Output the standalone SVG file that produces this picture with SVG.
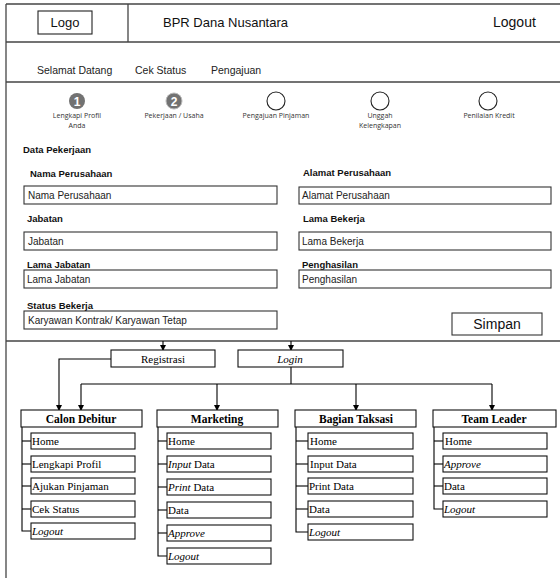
<svg xmlns="http://www.w3.org/2000/svg" width="560" height="580" viewBox="0 0 560 580">
<style>
.frame{stroke:#444;stroke-width:1.3;fill:none}
.hdr{font-family:"Liberation Sans",Arial,sans-serif;fill:#111}
.nav{font-family:"Liberation Sans",Arial,sans-serif;font-size:10.5px;fill:#222}
.step{font-family:"Open Sans","Liberation Sans",sans-serif;font-size:7px;fill:#333;text-anchor:middle}
.lbl{font-family:"Liberation Sans",Arial,sans-serif;font-size:9.5px;font-weight:bold;fill:#111}
.inp{fill:#fff;stroke:#333;stroke-width:1.1}
.inpt{font-family:"Liberation Sans",Arial,sans-serif;font-size:10px;fill:#222}
.box{fill:#fff;stroke:#111;stroke-width:1.1}
.role{font-family:"Liberation Serif","Times New Roman",serif;font-size:11.5px;font-weight:bold;text-anchor:middle;fill:#000}
.it{font-family:"Liberation Serif","Times New Roman",serif;font-size:11px;fill:#000}
.ln{stroke:#000;stroke-width:1.1;fill:none}
</style>
<defs>
<marker id="ah" markerWidth="6" markerHeight="6" refX="5" refY="3" orient="auto" markerUnits="userSpaceOnUse">
<path d="M0,0 L6,3 L0,6 Z" fill="#000"/>
</marker>
</defs>
<rect width="560" height="580" fill="#fff"/>

<g id="frame">
<line class="frame" x1="6" y1="4" x2="560" y2="4"/>
<line class="frame" x1="6" y1="4" x2="6" y2="578"/>
<line class="frame" x1="128" y1="4" x2="128" y2="42"/>
<line class="frame" x1="6" y1="42" x2="560" y2="42"/>
<line class="frame" x1="6" y1="82" x2="560" y2="82"/>
<line class="frame" x1="6" y1="341" x2="560" y2="341"/>
</g>

<g id="header">
<rect x="38" y="11" width="54" height="23" fill="#fff" stroke="#222" stroke-width="1.1"/>
<text class="hdr" x="65" y="27" font-size="13" text-anchor="middle">Logo</text>
<text class="hdr" x="163" y="27" font-size="13">BPR Dana Nusantara</text>
<text class="hdr" x="493" y="27" font-size="14">Logout</text>
</g>

<g id="nav">
<text class="nav" x="37" y="74">Selamat Datang</text>
<text class="nav" x="135" y="74">Cek Status</text>
<text class="nav" x="211" y="74">Pengajuan</text>
</g>

<g id="steps">
<circle cx="77" cy="101" r="8" fill="#727272"/>
<text x="77" y="105.5" font-family="Liberation Sans,Arial,sans-serif" font-size="12" font-weight="bold" fill="#fff" text-anchor="middle">1</text>
<circle cx="174" cy="101" r="8" fill="#727272" stroke="#bbb" stroke-width="1"/>
<text x="174" y="105.5" font-family="Liberation Sans,Arial,sans-serif" font-size="12" font-weight="bold" fill="#fff" text-anchor="middle">2</text>
<circle cx="276" cy="101" r="9" fill="#fff" stroke="#222" stroke-width="1.1"/>
<circle cx="380" cy="101" r="9" fill="#fff" stroke="#222" stroke-width="1.1"/>
<circle cx="488" cy="101" r="9" fill="#fff" stroke="#222" stroke-width="1.1"/>
<text class="step" x="77" y="118">Lengkapi Profil</text>
<text class="step" x="77" y="128">Anda</text>
<text class="step" x="174" y="118">Pekerjaan / Usaha</text>
<text class="step" x="276" y="118">Pengajuan Pinjaman</text>
<text class="step" x="380" y="118">Unggah</text>
<text class="step" x="380" y="128">Kelengkapan</text>
<text class="step" x="489" y="118">Penilaian Kredit</text>
</g>

<g id="form">
<text class="lbl" x="23" y="153">Data Pekerjaan</text>
<text class="lbl" x="30" y="177">Nama Perusahaan</text>
<rect class="inp" x="24" y="186" width="253" height="18"/>
<text class="inpt" x="28" y="199">Nama Perusahaan</text>
<text class="lbl" x="27" y="222">Jabatan</text>
<rect class="inp" x="24" y="232" width="253" height="18"/>
<text class="inpt" x="28" y="245">Jabatan</text>
<text class="lbl" x="27" y="268">Lama Jabatan</text>
<rect class="inp" x="24" y="270" width="253" height="18"/>
<text class="inpt" x="27" y="283">Lama Jabatan</text>
<text class="lbl" x="27" y="309">Status Bekerja</text>
<rect class="inp" x="24" y="311" width="253" height="18"/>
<text class="inpt" x="28" y="324">Karyawan Kontrak/ Karyawan Tetap</text>

<text class="lbl" x="303" y="176">Alamat Perusahaan</text>
<rect class="inp" x="299" y="187" width="252" height="17"/>
<text class="inpt" x="302" y="199">Alamat Perusahaan</text>
<text class="lbl" x="303" y="222">Lama Bekerja</text>
<rect class="inp" x="299" y="232" width="252" height="18"/>
<text class="inpt" x="302" y="245">Lama Bekerja</text>
<text class="lbl" x="302" y="268">Penghasilan</text>
<rect class="inp" x="299" y="270" width="252" height="18"/>
<text class="inpt" x="302" y="283">Penghasilan</text>
<rect class="inp" x="452" y="313" width="90" height="22"/>
<text class="hdr" x="497" y="329" font-size="14" text-anchor="middle">Simpan</text>
</g>

<g id="connectors">
<line class="ln" x1="163" y1="341" x2="163" y2="350" marker-end="url(#ah)"/>
<line class="ln" x1="291" y1="341" x2="291" y2="350" marker-end="url(#ah)"/>
<polyline class="ln" points="111,359 59,359 59,410" marker-end="url(#ah)"/>
<polyline class="ln" points="291,367 291,384"/>
<line class="ln" x1="81" y1="384" x2="492" y2="384"/>
<line class="ln" x1="81" y1="384" x2="81" y2="410" marker-end="url(#ah)"/>
<line class="ln" x1="217" y1="384" x2="217" y2="410" marker-end="url(#ah)"/>
<line class="ln" x1="356" y1="384" x2="356" y2="410" marker-end="url(#ah)"/>
<line class="ln" x1="492" y1="384" x2="492" y2="410" marker-end="url(#ah)"/>
<polyline class="ln" points="22,427 22,531 31,531"/>
<line class="ln" x1="22" y1="441" x2="31" y2="441"/>
<line class="ln" x1="22" y1="464" x2="31" y2="464"/>
<line class="ln" x1="22" y1="486" x2="31" y2="486"/>
<line class="ln" x1="22" y1="509" x2="31" y2="509"/>
<polyline class="ln" points="158,427 158,556 167,556"/>
<line class="ln" x1="158" y1="441" x2="167" y2="441"/>
<line class="ln" x1="158" y1="464" x2="167" y2="464"/>
<line class="ln" x1="158" y1="487" x2="167" y2="487"/>
<line class="ln" x1="158" y1="510" x2="167" y2="510"/>
<line class="ln" x1="158" y1="533" x2="167" y2="533"/>
<polyline class="ln" points="296,427 296,532 308,532"/>
<line class="ln" x1="296" y1="441" x2="308" y2="441"/>
<line class="ln" x1="296" y1="464" x2="308" y2="464"/>
<line class="ln" x1="296" y1="486" x2="308" y2="486"/>
<line class="ln" x1="296" y1="509" x2="308" y2="509"/>
<polyline class="ln" points="434,427 434,509 443,509"/>
<line class="ln" x1="434" y1="441" x2="443" y2="441"/>
<line class="ln" x1="434" y1="464" x2="443" y2="464"/>
<line class="ln" x1="434" y1="486" x2="443" y2="486"/>
</g>

<g id="registrasi"><rect class="box" x="111" y="350" width="104" height="17"/><text class="it" x="163" y="362.5" text-anchor="middle">Registrasi</text></g>
<g id="login"><rect class="box" x="238" y="350" width="105" height="17"/><text class="it" x="290" y="362.5" text-anchor="middle" font-style="italic">Login</text></g>

<g id="calon-debitur"><rect class="box" x="21" y="410" width="121" height="17"/><text class="role" x="81" y="422.5">Calon Debitur</text></g>
<g id="marketing"><rect class="box" x="157" y="410" width="121" height="17"/><text class="role" x="217" y="422.5">Marketing</text></g>
<g id="bagian-taksasi"><rect class="box" x="295" y="410" width="121" height="17"/><text class="role" x="356" y="422.5">Bagian Taksasi</text></g>
<g id="team-leader"><rect class="box" x="433" y="410" width="123" height="17"/><text class="role" x="494" y="422.5">Team Leader</text></g>

<g id="cd-items">
<rect class="box" x="31" y="433" width="104" height="16"/><text class="it" x="32" y="445">Home</text>
<rect class="box" x="31" y="456" width="104" height="16"/><text class="it" x="32" y="468">Lengkapi Profil</text>
<rect class="box" x="31" y="478" width="104" height="16"/><text class="it" x="32" y="490">Ajukan Pinjaman</text>
<rect class="box" x="31" y="501" width="104" height="16"/><text class="it" x="32" y="513">Cek Status</text>
<rect class="box" x="31" y="523" width="104" height="16"/><text class="it" x="32" y="535" font-style="italic">Logout</text>
</g>
<g id="mk-items">
<rect class="box" x="167" y="433" width="104" height="16"/><text class="it" x="168" y="445">Home</text>
<rect class="box" x="167" y="456" width="104" height="16"/><text class="it" x="168" y="468"><tspan font-style="italic">Input</tspan> Data</text>
<rect class="box" x="167" y="479" width="104" height="16"/><text class="it" x="168" y="491"><tspan font-style="italic">Print</tspan> Data</text>
<rect class="box" x="167" y="502" width="104" height="16"/><text class="it" x="168" y="514">Data</text>
<rect class="box" x="167" y="525" width="104" height="16"/><text class="it" x="168" y="537" font-style="italic">Approve</text>
<rect class="box" x="167" y="548" width="104" height="16"/><text class="it" x="168" y="560" font-style="italic">Logout</text>
</g>
<g id="bt-items">
<rect class="box" x="308" y="433" width="105" height="16"/><text class="it" x="310" y="445">Home</text>
<rect class="box" x="308" y="456" width="105" height="16"/><text class="it" x="310" y="468">Input Data</text>
<rect class="box" x="308" y="478" width="105" height="16"/><text class="it" x="309" y="490">Print Data</text>
<rect class="box" x="308" y="501" width="105" height="16"/><text class="it" x="309" y="513">Data</text>
<rect class="box" x="308" y="524" width="105" height="16"/><text class="it" x="309" y="536" font-style="italic">Logout</text>
</g>
<g id="tl-items">
<rect class="box" x="443" y="433" width="104" height="16"/><text class="it" x="445" y="445">Home</text>
<rect class="box" x="443" y="456" width="104" height="16"/><text class="it" x="444" y="468" font-style="italic">Approve</text>
<rect class="box" x="443" y="478" width="104" height="16"/><text class="it" x="444" y="490">Data</text>
<rect class="box" x="443" y="501" width="104" height="16"/><text class="it" x="444" y="513" font-style="italic">Logout</text>
</g>
</svg>
